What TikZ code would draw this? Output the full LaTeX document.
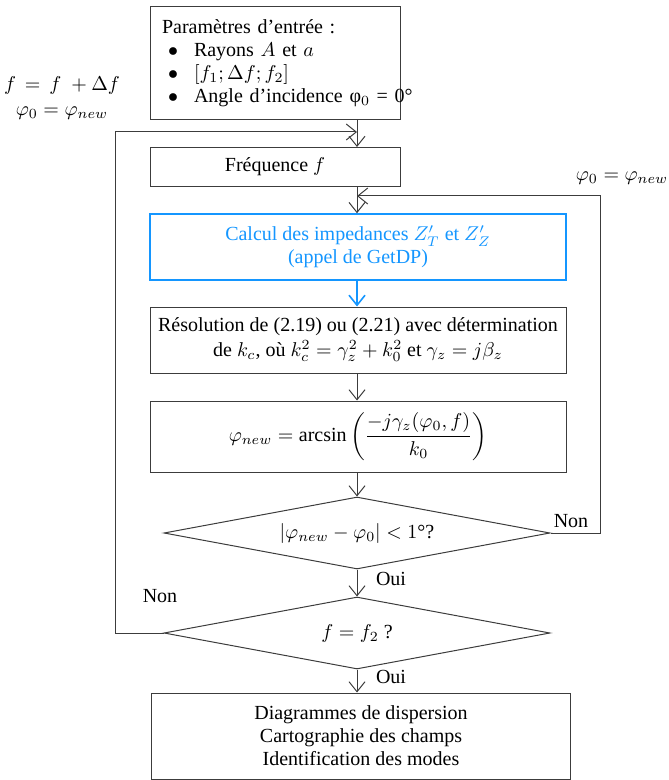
\documentclass[tikz,border=0pt]{standalone}
\usepackage{fontspec}
\setmainfont{Liberation Serif}
\usepackage{amsmath}
\usetikzlibrary{arrows.meta,positioning,shapes.geometric}
\definecolor{getdp}{RGB}{20,150,255}
\definecolor{ln}{RGB}{60,60,60}

\begin{document}
\begin{tikzpicture}[x=0.5pt,y=-0.5pt,>={Straight Barb[length=5pt,width=8pt]},font=\fontsize{10}{11.5}\selectfont,
 blk/.style={draw=ln,line width=0.5pt,minimum width=208pt,minimum height=33pt,inner sep=1pt,align=center},
 dec/.style={draw=ln,diamond,line width=0.5pt,minimum width=193pt,minimum height=36pt,aspect=5.4,inner sep=0pt},
 lk/.style={draw=ln,line width=0.5pt},
 lbl/.style={inner sep=0pt}]
\useasboundingbox (0,0) rectangle (668,780);
\node[blk,minimum width=125pt,minimum height=56.5pt,inner xsep=2pt,text width=121pt,align=left] (inp) at (275,63)
 {\hspace*{4pt}Paramètres d’entrée :\\
 \hspace*{7pt}\makebox[13pt][l]{$\bullet$}Rayons $A$ et $a$\\
 \hspace*{7pt}\makebox[13pt][l]{$\bullet$}$[f_1;\Delta f;f_2]$\\
 \hspace*{7pt}\makebox[13pt][l]{$\bullet$}\mbox{Angle d’incidence φ$_0$ = 0°}};
\node[blk,minimum width=125pt,minimum height=19.5pt] (frq) at (275,167) {Fréquence $f$};
\node[blk,draw=getdp,text=getdp,line width=0.8pt] (imp) at (358,247) {Calcul des impedances $Z'_T$ et $Z'_Z$\\(appel de GetDP)};
\node[blk] (res) at (358,340) {Résolution de (2.19) ou (2.21) avec détermination\\[1pt]de $k_c$, où $k_c^2=\gamma_z^2+k_0^2$ et $\gamma_z=j\beta_z$};
\node[blk,minimum height=35.5pt] (phi) at (358,436.5) {$\varphi_{new}=\arcsin\left(\dfrac{-j\gamma_z(\varphi_0,f)}{k_0}\right)$};
\node[dec] (tst) at (357,533) {$|\varphi_{new}-\varphi_0|<1$°?};
\node[dec] (fin) at (357,633) {$f=f_2$ ?};
\node[blk,minimum width=209.5pt,minimum height=43pt] (out) at (361,736) {Diagrammes de dispersion\\Cartographie des champs\\Identification des modes};
% boucles
\coordinate (top) at (357,132);
\coordinate (lft) at (115,132);
\coordinate (rgt) at (600,196);
\coordinate (mid) at (357,196);
\draw[lk,->] (inp.south -| top) -- (frq.north -| top);
\draw[lk,->] (frq.south -| top) -- (imp.north -| top);
\draw[getdp,line width=0.8pt,->] (imp.south -| top) -- (res.north -| top);
\draw[lk,->] (res.south -| top) -- (phi.north -| top);
\draw[lk,->] (phi.south -| top) -- (tst.north);
\draw[lk,->] (tst.south) -- (fin.north);
\draw[lk,->] (fin.south) -- (out.north -| fin);
\draw[lk,->] (fin.west) -| (lft) -- (top);
\draw[lk,->] (tst.east) -| (rgt) -- (mid);
\node[lbl] at (62,86) {$f\,=\,f\;+\Delta f$};
\node[lbl] at (62,113) {$\varphi_0=\varphi_{new}$};
\node[lbl] at (622,178) {$\varphi_0=\varphi_{new}$};
\node[lbl] at (571,521) {Non};
\node[lbl] at (160,596) {Non};
\node[lbl] at (391,579) {Oui};
\node[lbl] at (391,677) {Oui};
\end{tikzpicture}
\end{document}
